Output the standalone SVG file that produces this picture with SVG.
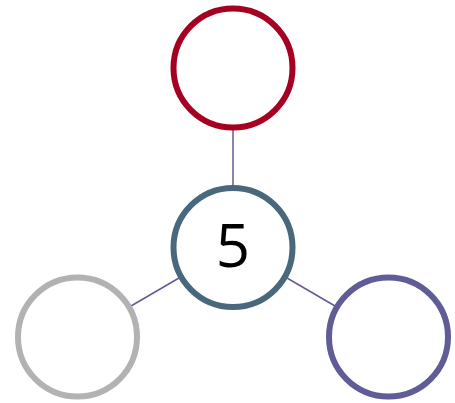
<svg xmlns="http://www.w3.org/2000/svg" width="455" height="403" viewBox="0 0 455 403">
<style>
.node{fill:#ffffff;stroke-width:6}
.link{stroke:#625b99;stroke-width:1.5;fill:none}
.label{font-family:"Open Sans","Noto Sans","DejaVu Sans",sans-serif;font-size:60px;fill:#000000;text-anchor:middle}
</style>
<rect width="455" height="403" fill="#ffffff"/>
<g id="connectors">
<line class="link" x1="233" y1="130" x2="233" y2="185"/>
<line class="link" x1="179" y1="278" x2="131" y2="306"/>
<line class="link" x1="287" y1="278" x2="335" y2="306"/>
</g>
<g id="node-top"><circle class="node" cx="233" cy="68" r="59.5" stroke="#a50021"/></g>
<g id="node-left"><circle class="node" cx="77.5" cy="337" r="59.5" stroke="#b2b2b2"/></g>
<g id="node-right"><circle class="node" cx="388.5" cy="337" r="59.5" stroke="#605c96"/></g>
<g id="node-center"><circle class="node" cx="233" cy="247.5" r="59.5" stroke="#4a687c"/>
<text class="label" x="233" y="267">5</text></g>
</svg>
